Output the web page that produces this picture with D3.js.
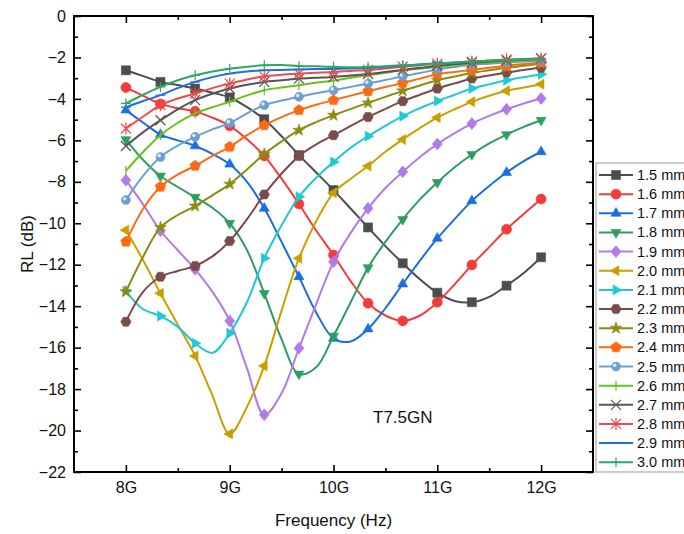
<!DOCTYPE html>
<html>
<head>
<meta charset="utf-8">
<script src="https://cdn.jsdelivr.net/npm/d3@7"></script>
<style>
  body { margin: 0; background: #fff; }
  text { font-family: Arial, "Liberation Sans", sans-serif; }
</style>
</head>
<body>
<div id="chart"></div>
<script>
// frequency grid (GHz), markers sit on every second point
var freq = [8, 8.167, 8.333, 8.5, 8.667, 8.833, 9, 9.167, 9.333, 9.5, 9.667, 9.833, 10,
            10.167, 10.333, 10.5, 10.667, 10.833, 11, 11.167, 11.333, 11.5, 11.667, 11.833, 12];

var names = ["1.5 mm", "1.6 mm", "1.7 mm", "1.8 mm", "1.9 mm", "2.0 mm", "2.1 mm", "2.2 mm",
             "2.3 mm", "2.4 mm", "2.5 mm", "2.6 mm", "2.7 mm", "2.8 mm", "2.9 mm", "3.0 mm"];
var colors = ["#4d4d4d", "#f23c3c", "#1a6ee0", "#2e9d62", "#b27ae8", "#c9a000", "#1ec9d4", "#7b4b4b",
              "#8c8c10", "#ff6a10", "#6b9fd4", "#6cbf1e", "#555555", "#f04a4a", "#1f6fe0", "#2da866"];
var shapes = ["square", "circle", "triUp", "triDown", "diamond", "triLeft", "triRight", "hexagon",
              "star", "pentagon", "sphere", "vline", "cross", "asterisk", "hline", "plus"];

var rl15 = [-2.62, -2.9, -3.18, -3.33, -3.5, -3.7, -3.93, -4.4, -4.98, -5.8, -6.71, -7.55, -8.4, -9.3, -10.2, -11.1, -11.93, -12.7, -13.35, -13.75, -13.81, -13.55, -13.01, -12.4, -11.64];
var rl16 = [-3.45, -3.85, -4.24, -4.45, -4.6, -4.9, -5.3, -5.95, -6.75, -7.85, -9.07, -10.35, -11.53, -12.8, -13.86, -14.45, -14.71, -14.45, -13.81, -12.95, -12.01, -11.15, -10.29, -9.55, -8.83];
var rl17 = [-4.54, -5.15, -5.72, -6.0, -6.27, -6.65, -7.15, -8.0, -9.28, -10.9, -12.58, -14.3, -15.55, -15.7, -15.1, -14.1, -12.93, -11.8, -10.73, -9.8, -8.92, -8.2, -7.55, -7.0, -6.55];
var rl18 = [-5.96, -6.95, -7.72, -8.25, -8.74, -9.25, -10.0, -11.3, -13.38, -15.6, -17.27, -16.95, -15.44, -13.8, -12.14, -10.9, -9.81, -8.85, -8.03, -7.3, -6.68, -6.15, -5.72, -5.35, -5.03];
var rl19 = [-7.92, -9.1, -10.36, -11.3, -12.22, -13.3, -14.71, -17.0, -19.24, -18.2, -16.03, -13.9, -11.86, -10.45, -9.28, -8.3, -7.52, -6.8, -6.18, -5.65, -5.19, -4.82, -4.5, -4.22, -3.98];
var rl20 = [-10.33, -11.8, -13.38, -14.9, -16.4, -18.3, -20.16, -18.85, -16.88, -14.2, -11.69, -9.9, -8.53, -7.85, -7.24, -6.55, -5.96, -5.4, -4.9, -4.5, -4.14, -3.85, -3.61, -3.45, -3.29];
var rl21 = [-13.27, -14.15, -14.47, -15.0, -15.79, -16.25, -15.31, -13.8, -11.69, -10.1, -8.72, -7.8, -7.04, -6.35, -5.8, -5.3, -4.83, -4.45, -4.1, -3.8, -3.5, -3.3, -3.1, -2.95, -2.81];
var rl22 = [-14.75, -13.3, -12.58, -12.3, -12.06, -11.6, -10.86, -9.8, -8.61, -7.6, -6.76, -6.2, -5.75, -5.3, -4.87, -4.48, -4.11, -3.8, -3.5, -3.25, -3.02, -2.87, -2.73, -2.6, -2.5];
var rl23 = [-13.3, -11.6, -10.2, -9.6, -9.17, -8.65, -8.11, -7.4, -6.66, -6.05, -5.51, -5.12, -4.79, -4.48, -4.19, -3.9, -3.61, -3.35, -3.1, -2.92, -2.75, -2.62, -2.5, -2.4, -2.3];
var rl24 = [-10.89, -9.3, -8.24, -7.65, -7.23, -6.75, -6.31, -5.75, -5.27, -4.88, -4.54, -4.28, -4.06, -3.84, -3.63, -3.43, -3.23, -3.02, -2.81, -2.7, -2.6, -2.5, -2.4, -2.32, -2.25];
var rl25 = [-8.88, -7.7, -6.8, -6.25, -5.83, -5.47, -5.16, -4.7, -4.3, -4.08, -3.9, -3.73, -3.58, -3.42, -3.26, -3.09, -2.91, -2.75, -2.58, -2.46, -2.35, -2.3, -2.25, -2.2, -2.15];
var rl26 = [-7.47, -6.55, -5.75, -5.15, -4.7, -4.4, -4.14, -3.83, -3.58, -3.45, -3.34, -3.22, -3.12, -2.98, -2.86, -2.74, -2.62, -2.54, -2.46, -2.38, -2.3, -2.25, -2.2, -2.15, -2.1];
var rl27 = [-6.27, -5.6, -5.03, -4.5, -4.06, -3.75, -3.5, -3.32, -3.18, -3.1, -3.02, -2.98, -2.94, -2.87, -2.8, -2.7, -2.6, -2.5, -2.4, -2.32, -2.25, -2.2, -2.15, -2.1, -2.05];
var rl28 = [-5.43, -4.85, -4.3, -3.98, -3.74, -3.48, -3.26, -3.06, -2.91, -2.84, -2.78, -2.74, -2.7, -2.65, -2.6, -2.53, -2.45, -2.38, -2.3, -2.25, -2.2, -2.15, -2.1, -2.07, -2.05];
var rl29 = [-4.4, -4.1, -3.82, -3.48, -3.18, -2.95, -2.78, -2.68, -2.62, -2.6, -2.58, -2.56, -2.55, -2.53, -2.5, -2.45, -2.4, -2.34, -2.28, -2.24, -2.2, -2.16, -2.12, -2.1, -2.07];
var rl30 = [-4.22, -3.8, -3.42, -3.1, -2.86, -2.68, -2.54, -2.45, -2.38, -2.37, -2.41, -2.43, -2.45, -2.47, -2.45, -2.42, -2.38, -2.34, -2.3, -2.25, -2.2, -2.16, -2.12, -2.1, -2.08];

var values = [rl15, rl16, rl17, rl18, rl19, rl20, rl21, rl22, rl23, rl24, rl25, rl26, rl27, rl28, rl29, rl30];

var yTicks = [0, -2, -4, -6, -8, -10, -12, -14, -16, -18, -20, -22];
var xTicks = [8, 9, 10, 11, 12];

var width = 684, height = 534;
var margin = {top: 16, right: 91, bottom: 62, left: 74};

var svg = d3.select("#chart").append("svg")
    .attr("width", width)
    .attr("height", height);

var x = d3.scaleLinear().domain([7.5, 12.5]).range([margin.left, width - margin.right]);
var y = d3.scaleLinear().domain([-22, 0]).range([height - margin.bottom, margin.top]);

// marker path for each shape, centred on 0,0
function markerPath(type) {
    var p = d3.path();
    function poly(n, r, rot) {
        for (var k = 0; k < n; k++) {
            var a = rot + k * 2 * Math.PI / n;
            var px = r * Math.cos(a), py = r * Math.sin(a);
            if (k === 0) p.moveTo(px, py); else p.lineTo(px, py);
        }
        p.closePath();
    }
    switch (type) {
        case "square": p.rect(-4.5, -4.5, 9, 9); break;
        case "circle": p.arc(0, 0, 5, 0, 2 * Math.PI); break;
        case "sphere": p.arc(0, 0, 4.5, 0, 2 * Math.PI); break;
        case "triUp": poly(3, 5.8, -Math.PI / 2); break;
        case "triDown": poly(3, 5.8, Math.PI / 2); break;
        case "triLeft": poly(3, 5.8, Math.PI); break;
        case "triRight": poly(3, 5.8, 0); break;
        case "diamond": p.moveTo(0, -6); p.lineTo(5, 0); p.lineTo(0, 6); p.lineTo(-5, 0); p.closePath(); break;
        case "hexagon": poly(6, 5.2, 0); break;
        case "pentagon": poly(5, 5.5, -Math.PI / 2); break;
        case "star": return d3.symbol(d3.symbolStar, 45)();
        case "vline": p.moveTo(0, -5); p.lineTo(0, 5); break;
        case "hline": p.moveTo(-5, 0); p.lineTo(5, 0); break;
        case "plus": p.moveTo(-5, 0); p.lineTo(5, 0); p.moveTo(0, -5); p.lineTo(0, 5); break;
        case "cross": p.moveTo(-5, -5); p.lineTo(5, 5); p.moveTo(-5, 5); p.lineTo(5, -5); break;
        case "asterisk":
            p.moveTo(-5, -5); p.lineTo(5, 5); p.moveTo(-5, 5); p.lineTo(5, -5);
            p.moveTo(0, -6); p.lineTo(0, 6); break;
    }
    return p.toString();
}
var strokeOnly = {vline: 1, hline: 1, plus: 1, cross: 1, asterisk: 1};

function drawMarker(g, type, color) {
    var m = g.append("path").attr("d", markerPath(type));
    if (strokeOnly[type]) {
        m.attr("fill", "none").attr("stroke", color).attr("stroke-width", 1.2);
    } else {
        m.attr("fill", color).attr("stroke", color).attr("stroke-width", 0.6);
    }
    if (type === "sphere") {
        g.append("circle").attr("cx", -1.3).attr("cy", -1.3).attr("r", 1.8)
            .attr("fill", "#fff").attr("opacity", 0.75);
    }
}

var series = names.map(function(n, i) {
    return {name: n, color: colors[i], shape: shapes[i],
            pts: freq.map(function(f, j) { return {f: f, v: values[i][j], mark: j % 2 === 0}; })};
});

var line = d3.line()
    .x(function(d) { return x(d.f); })
    .y(function(d) { return y(d.v); })
    .curve(d3.curveCatmullRom.alpha(0.5));

var plot = svg.append("g");
series.forEach(function(s) {
    var g = plot.append("g");
    g.append("path")
        .attr("d", line(s.pts))
        .attr("fill", "none")
        .attr("stroke", s.color)
        .attr("stroke-width", 2);
    s.pts.filter(function(d) { return d.mark; }).forEach(function(d) {
        var mg = g.append("g").attr("transform", "translate(" + x(d.f) + "," + y(d.v) + ")");
        drawMarker(mg, s.shape, s.color);
    });
});

// axes: ticks point inward on all four sides
var minorY = d3.range(-21, 0, 2);
var minorX = [8.5, 9.5, 10.5, 11.5];

function styleAxis(g) {
    g.select(".domain").remove();
    g.selectAll(".tick line").attr("stroke", "#000").attr("stroke-width", 1.6);
    g.selectAll("text").attr("font-size", 16).attr("fill", "#111");
}

svg.append("g").attr("transform", "translate(" + margin.left + ",0)")
    .call(d3.axisLeft(y).tickValues(yTicks).tickSize(-7).tickPadding(8)).call(styleAxis);
svg.append("g").attr("transform", "translate(" + margin.left + ",0)")
    .call(d3.axisLeft(y).tickValues(minorY).tickSize(-4).tickFormat("")).call(styleAxis);
svg.append("g").attr("transform", "translate(" + (width - margin.right) + ",0)")
    .call(d3.axisRight(y).tickValues(yTicks).tickSize(-7).tickFormat("")).call(styleAxis);
svg.append("g").attr("transform", "translate(" + (width - margin.right) + ",0)")
    .call(d3.axisRight(y).tickValues(minorY).tickSize(-4).tickFormat("")).call(styleAxis);

svg.append("g").attr("transform", "translate(0," + (height - margin.bottom) + ")")
    .call(d3.axisBottom(x).tickValues(xTicks).tickSize(-7).tickPadding(10)
        .tickFormat(function(d) { return d + "G"; })).call(styleAxis);
svg.append("g").attr("transform", "translate(0," + (height - margin.bottom) + ")")
    .call(d3.axisBottom(x).tickValues(minorX).tickSize(-4).tickFormat("")).call(styleAxis);
svg.append("g").attr("transform", "translate(0," + margin.top + ")")
    .call(d3.axisTop(x).tickValues(xTicks).tickSize(-7).tickFormat("")).call(styleAxis);
svg.append("g").attr("transform", "translate(0," + margin.top + ")")
    .call(d3.axisTop(x).tickValues(minorX).tickSize(-4).tickFormat("")).call(styleAxis);

// frame
svg.append("rect")
    .attr("x", margin.left).attr("y", margin.top)
    .attr("width", width - margin.right - margin.left)
    .attr("height", height - margin.bottom - margin.top)
    .attr("fill", "none").attr("stroke", "#000").attr("stroke-width", 2);

// axis titles
svg.append("text")
    .attr("x", (margin.left + width - margin.right) / 2)
    .attr("y", 526)
    .attr("text-anchor", "middle")
    .attr("font-size", 17)
    .attr("fill", "#111")
    .text("Frequency (Hz)");

svg.append("text")
    .attr("transform", "translate(33," + ((margin.top + height - margin.bottom) / 2) + ") rotate(-90)")
    .attr("text-anchor", "middle")
    .attr("font-size", 17)
    .attr("fill", "#111")
    .text("RL (dB)");

svg.append("text")
    .attr("x", 373).attr("y", 423)
    .attr("font-size", 17)
    .attr("fill", "#111")
    .text("T7.5GN");

// legend
var legend = svg.append("g").attr("transform", "translate(596,163)");
legend.append("rect")
    .attr("x", 0).attr("y", 0)
    .attr("width", 120).attr("height", 309)
    .attr("fill", "#fff").attr("stroke", "#999").attr("stroke-width", 1);

series.forEach(function(s, i) {
    var row = legend.append("g").attr("transform", "translate(0," + (12 + i * 19.15) + ")");
    row.append("line")
        .attr("x1", 3).attr("x2", 37)
        .attr("stroke", s.color).attr("stroke-width", 2);
    var mg = row.append("g").attr("transform", "translate(20,0)");
    drawMarker(mg, s.shape, s.color);
    row.append("text")
        .attr("x", 41).attr("y", 5)
        .attr("font-size", 14.5)
        .attr("fill", "#111")
        .text(s.name);
});
</script>
</body>
</html>
